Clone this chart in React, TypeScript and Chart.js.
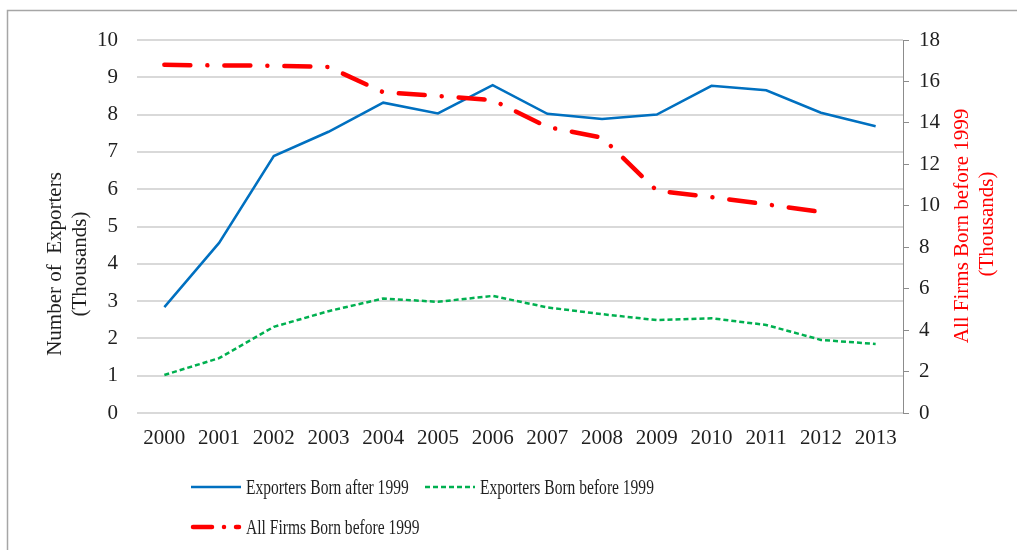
import React, { useEffect, useRef } from 'react';
import { Chart, ChartConfiguration, Plugin, registerables } from 'chart.js';

Chart.register(...registerables);

const years = ['2000', '2001', '2002', '2003', '2004', '2005', '2006', '2007', '2008', '2009', '2010', '2011', '2012', '2013'];

// thousands, left axis
const exportersBornAfter1999 = [2.84, 4.56, 6.89, 7.54, 8.32, 8.03, 8.79, 8.02, 7.88, 8.0, 8.77, 8.65, 8.05, 7.69];
const exportersBornBefore1999 = [1.02, 1.47, 2.31, 2.73, 3.07, 2.98, 3.14, 2.83, 2.65, 2.49, 2.54, 2.36, 1.96, 1.85];

// thousands, right axis
const allFirmsBornBefore1999 = [16.8, 16.77, 16.76, 16.7, 15.48, 15.3, 15.1, 13.8, 13.29, 10.73, 10.42, 10.07, 9.7, null];

const seriesLabels = ['Exporters Born after 1999', 'Exporters Born before 1999', 'All Firms Born before 1999'];
const leftTitle = ['Number of  Exporters', '(Thousands)'];
const rightTitle = ['All Firms Born before 1999', '(Thousands)'];

const SERIF = '"Liberation Serif", "Times New Roman", serif';
const TEXT = '#1f1f1f';
const BLUE = '#0070C0';
const GREEN = '#00B050';
const RED = '#FF0000';

const legendSlots = [
  { x: 191, y: 487, dash: [] as number[], cap: 'butt' as CanvasLineCap },
  { x: 425, y: 487, dash: [5, 3], cap: 'butt' as CanvasLineCap },
  { x: 193, y: 527, dash: [19, 12, 0.01, 12], cap: 'round' as CanvasLineCap },
];

const drawRotated = (ctx: CanvasRenderingContext2D, text: string, x: number, y: number) => {
  ctx.save();
  ctx.translate(x, y);
  ctx.rotate(-Math.PI / 2);
  ctx.fillText(text, 0, 0);
  ctx.restore();
};

const decorPlugin: Plugin<'line'> = {
  id: 'decor',
  beforeDraw(chart) {
    const ctx = chart.ctx;
    ctx.save();
    ctx.fillStyle = '#ffffff';
    ctx.fillRect(0, 0, chart.width, chart.height);
    ctx.strokeStyle = '#a6a6a6';
    ctx.lineWidth = 1.5;
    ctx.strokeRect(7.5, 10.5, chart.width + 20, chart.height + 20);
    ctx.restore();
  },
  afterDraw(chart) {
    const ctx = chart.ctx;
    ctx.save();
    ctx.font = `21px ${SERIF}`;
    ctx.textAlign = 'center';
    ctx.textBaseline = 'middle';

    ctx.fillStyle = TEXT;
    drawRotated(ctx, leftTitle[0], 55, 264);
    drawRotated(ctx, leftTitle[1], 80, 264);

    ctx.fillStyle = RED;
    drawRotated(ctx, rightTitle[0], 962, 226);
    drawRotated(ctx, rightTitle[1], 987, 224);

    // legend, drawn by hand to keep the left-aligned rows
    chart.data.datasets.forEach((ds: any, i) => {
      const slot = legendSlots[i];
      if (!slot) return;
      ctx.save();
      ctx.strokeStyle = ds.borderColor;
      ctx.lineWidth = ds.borderWidth;
      ctx.lineCap = slot.cap;
      ctx.setLineDash(slot.dash);
      ctx.beginPath();
      ctx.moveTo(slot.x, slot.y);
      ctx.lineTo(slot.x + (slot.cap === 'round' ? 46 : 50), slot.y);
      ctx.stroke();
      ctx.restore();

      ctx.save();
      ctx.fillStyle = TEXT;
      ctx.textAlign = 'left';
      ctx.translate(legendSlots[i].x - (slot.cap === 'round' ? 2 : 0) + 55, slot.y + 1);
      ctx.scale(0.74, 1);
      ctx.fillText(ds.label, 0, 0);
      ctx.restore();
    });
    ctx.restore();
  },
};

export default function App() {
  const canvasRef = useRef<HTMLCanvasElement | null>(null);
  const chartRef = useRef<Chart<'line'> | null>(null);

  useEffect(() => {
    if (!canvasRef.current) return;

    const tickFont = { family: SERIF, size: 21 };

    const config: ChartConfiguration<'line'> = {
      type: 'line',
      data: {
        labels: years,
        datasets: [
          {
            label: seriesLabels[0],
            data: exportersBornAfter1999,
            borderColor: BLUE,
            borderWidth: 2.5,
            pointRadius: 0,
            yAxisID: 'y',
            order: 1,
          },
          {
            label: seriesLabels[1],
            data: exportersBornBefore1999,
            borderColor: GREEN,
            borderWidth: 2.5,
            borderDash: [5, 3],
            pointRadius: 0,
            yAxisID: 'y',
            order: 2,
          },
          {
            label: seriesLabels[2],
            data: allFirmsBornBefore1999,
            borderColor: RED,
            borderWidth: 4.5,
            borderDash: [26, 17, 0.01, 17],
            borderCapStyle: 'round',
            pointRadius: 0,
            yAxisID: 'y1',
            order: 0,
          },
        ],
      },
      options: {
        animation: false,
        responsive: false,
        maintainAspectRatio: false,
        layout: { padding: { top: 40, bottom: 97, left: 0, right: 0 } },
        plugins: {
          legend: { display: false },
          tooltip: { enabled: false },
        },
        scales: {
          x: {
            offset: true,
            grid: { display: false, drawTicks: false },
            border: { display: false },
            ticks: { color: TEXT, font: tickFont, padding: 13, maxRotation: 0, autoSkip: false },
            afterFit: (scale) => {
              scale.height = 40;
            },
          },
          y: {
            position: 'left',
            min: 0,
            max: 10,
            ticks: { stepSize: 1, color: TEXT, font: tickFont, padding: 19 },
            grid: { color: '#d9d9d9', lineWidth: 2, drawTicks: false },
            border: { display: false },
            afterFit: (scale) => {
              scale.width = 137;
            },
          },
          y1: {
            position: 'right',
            min: 0,
            max: 18,
            ticks: { stepSize: 2, color: TEXT, font: tickFont, padding: 10 },
            grid: { drawOnChartArea: false, drawTicks: true, tickLength: 6, color: '#8c8c8c' },
            border: { display: true, color: '#8c8c8c', width: 1 },
            afterFit: (scale) => {
              scale.width = 114;
            },
          },
        },
      },
      plugins: [decorPlugin],
    };

    chartRef.current = new Chart(canvasRef.current, config);
    return () => {
      chartRef.current?.destroy();
    };
  }, []);

  return (
    <div style={{ position: 'fixed', left: 0, top: 0, width: 1017, height: 550, background: '#fff' }}>
      <canvas ref={canvasRef} width={1017} height={550} style={{ width: 1017, height: 550 }} />
    </div>
  );
}
